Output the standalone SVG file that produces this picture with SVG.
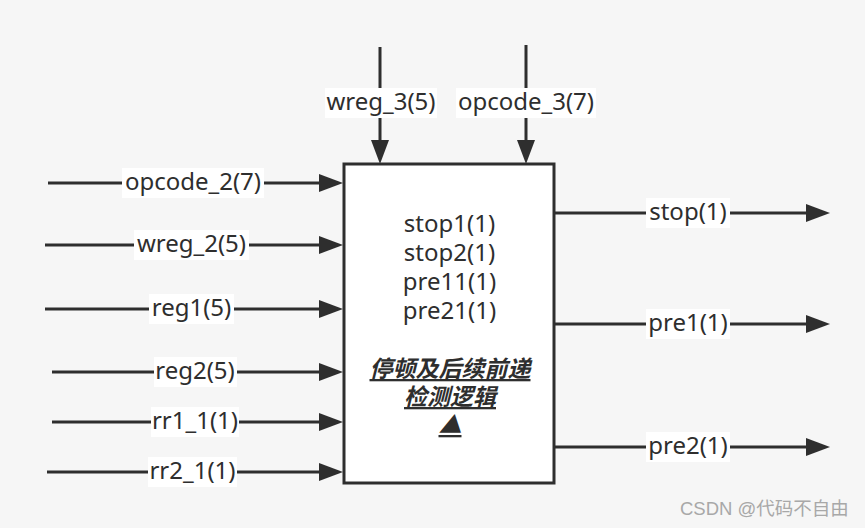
<svg xmlns="http://www.w3.org/2000/svg" width="865" height="528" viewBox="0 0 865 528">
<defs>
<style>
.ln{stroke:#2e2e2e;stroke-width:3;fill:none;marker-end:url(#ah)}
.lb{fill:#ffffff}
.tx{font-family:"Noto Sans","Open Sans","DejaVu Sans",sans-serif;font-size:24px;fill:#2e2e2e;text-anchor:middle}
.cn{font-family:"Noto Sans CJK SC",sans-serif;font-size:23px;font-weight:bold;font-style:italic;fill:#2e2e2e;text-anchor:middle;text-decoration:underline}
.wm{font-family:"Liberation Sans","Noto Sans CJK SC",sans-serif;font-size:18.5px;fill:#a8a8a8}
</style>
<marker id="ah" markerUnits="userSpaceOnUse" markerWidth="24" markerHeight="18" viewBox="0 0 24 18" refX="14" refY="9" orient="auto">
<path d="M0,0 L24,9 L0,18 Z" fill="#2e2e2e"/>
</marker>
</defs>
<rect width="865" height="528" fill="#f6f6f6"/>
<g id="connectors">
<path class="ln" d="M48,183 H333"/>
<path class="ln" d="M45,245 H333"/>
<path class="ln" d="M45,309 H333"/>
<path class="ln" d="M52,372 H333"/>
<path class="ln" d="M52,422 H333"/>
<path class="ln" d="M47,472 H333"/>
<path class="ln" d="M380,47 V154"/>
<path class="ln" d="M526,45 V154"/>
<path class="ln" d="M555,213 H820"/>
<path class="ln" d="M555,324 H820"/>
<path class="ln" d="M555,447 H820"/>
</g>
<g id="labels">
<rect class="lb" x="122" y="168" width="142" height="30"/><text class="tx" x="193" y="190">opcode_2(7)</text>
<rect class="lb" x="134" y="230" width="115" height="30"/><text class="tx" x="191.5" y="252">wreg_2(5)</text>
<rect class="lb" x="149" y="294" width="85" height="30"/><text class="tx" x="191.5" y="316">reg1(5)</text>
<rect class="lb" x="154" y="357" width="83" height="30"/><text class="tx" x="195" y="379">reg2(5)</text>
<rect class="lb" x="151" y="407" width="88" height="30"/><text class="tx" x="195" y="429">rr1_1(1)</text>
<rect class="lb" x="148" y="457" width="89" height="30"/><text class="tx" x="192.5" y="479">rr2_1(1)</text>
<rect class="lb" x="325" y="88" width="112" height="30"/><text class="tx" x="381" y="110">wreg_3(5)</text>
<rect class="lb" x="456" y="88" width="140" height="30"/><text class="tx" x="526" y="110">opcode_3(7)</text>
<rect class="lb" x="646" y="198" width="84" height="30"/><text class="tx" x="688" y="220">stop(1)</text>
<rect class="lb" x="646" y="309" width="84" height="30"/><text class="tx" x="688" y="331">pre1(1)</text>
<rect class="lb" x="646" y="432" width="84" height="30"/><text class="tx" x="688" y="454">pre2(1)</text>
</g>
<g id="block">
<rect x="344" y="164" width="210" height="319" fill="#ffffff" stroke="#2e2e2e" stroke-width="3"/>
<text class="tx" x="449.5" y="232"><tspan x="449.5" y="232">stop1(1)</tspan><tspan x="449.5" y="261">stop2(1)</tspan><tspan x="449.5" y="290">pre11(1)</tspan><tspan x="449.5" y="319">pre21(1)</tspan></text>
<text class="cn" x="450" y="377"><tspan x="450" y="377">停顿及后续前递</tspan><tspan x="450" y="405">检测逻辑</tspan><tspan x="450" y="433">▲</tspan></text>
</g>
<text class="wm" x="680" y="515">CSDN @代码不自由</text>
</svg>
